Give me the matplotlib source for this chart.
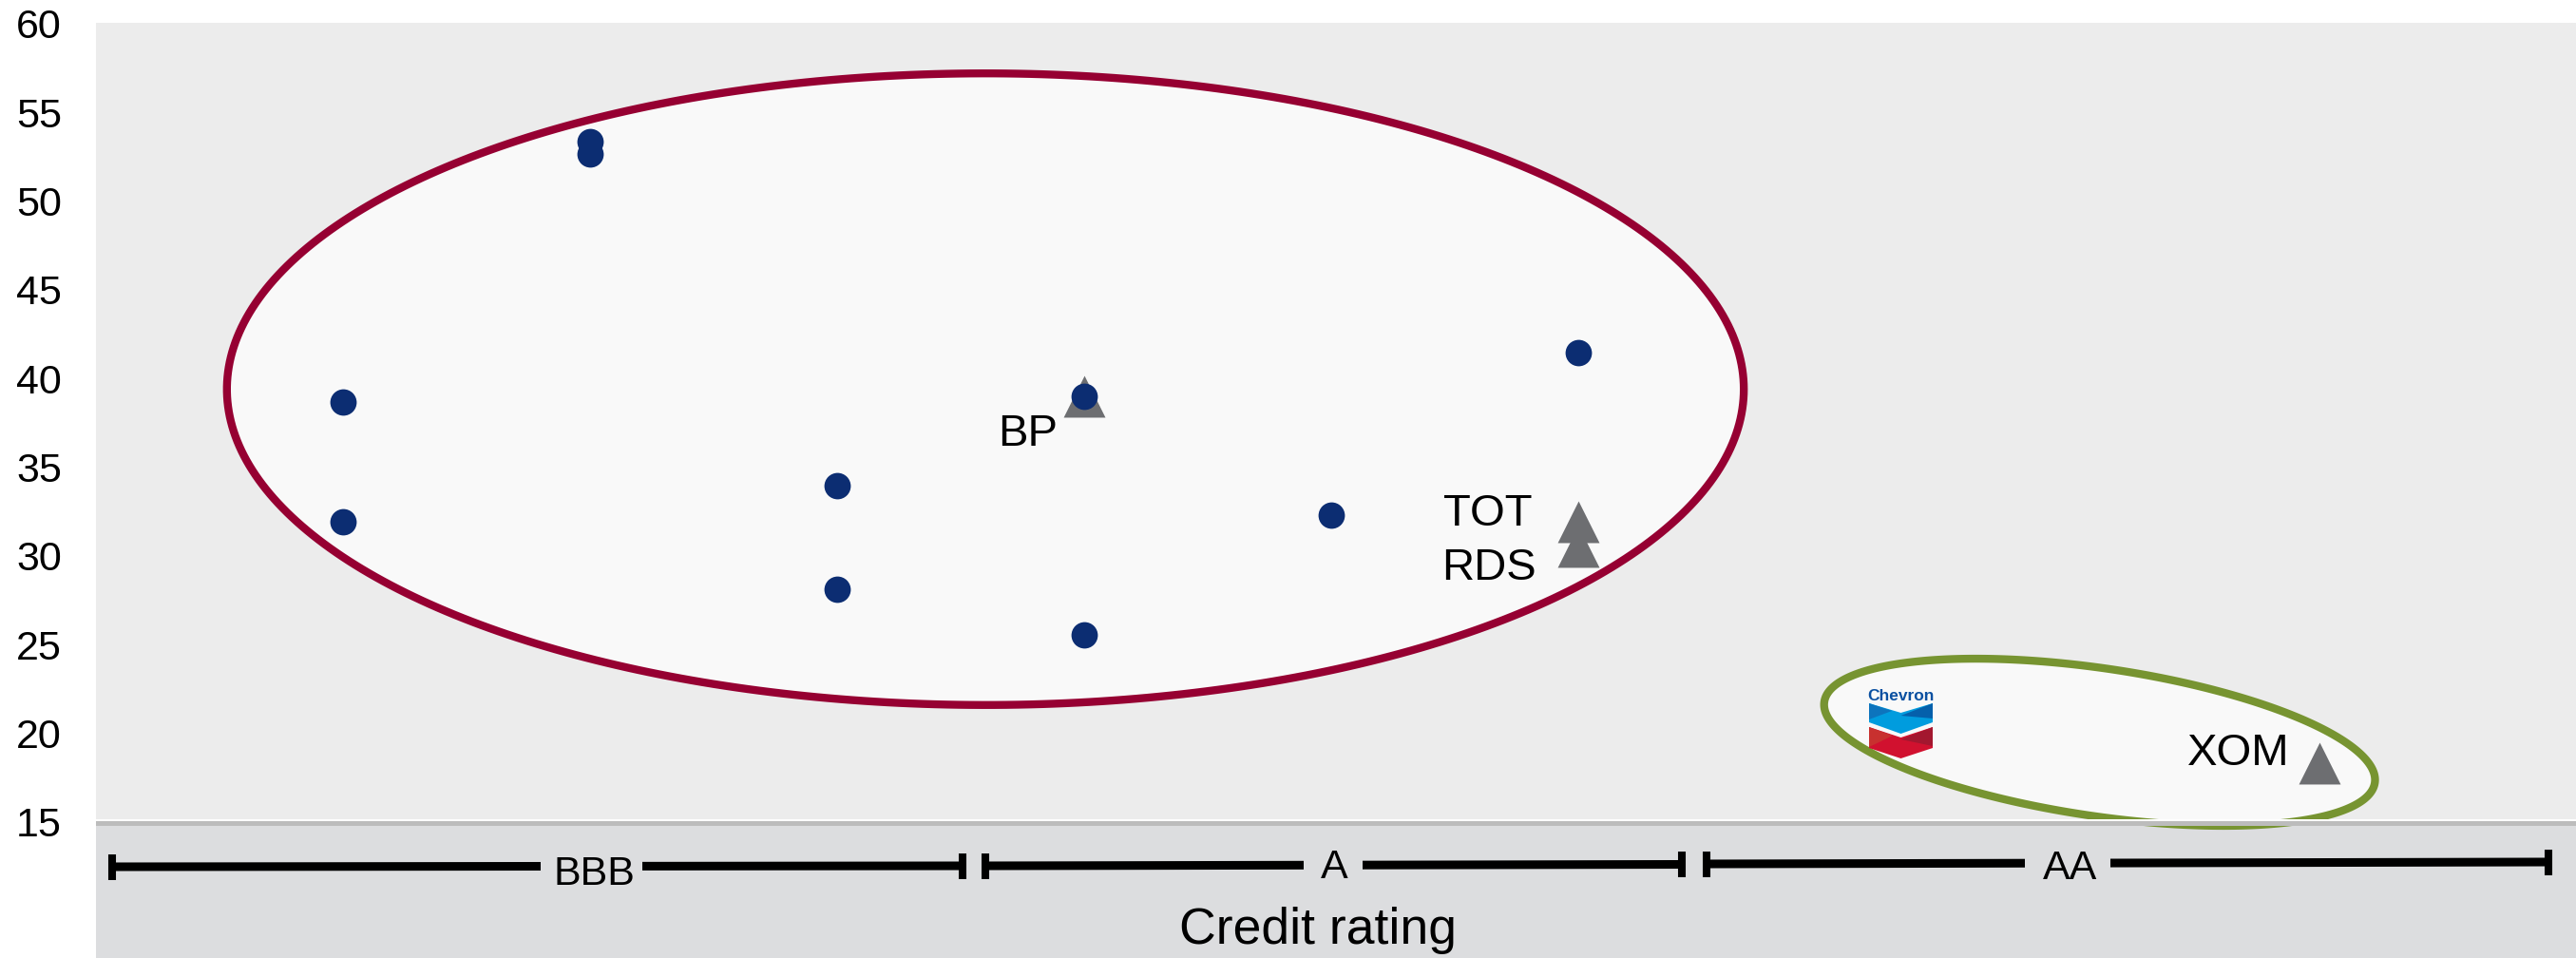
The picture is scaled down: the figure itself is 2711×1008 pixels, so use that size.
import numpy as np
import matplotlib
matplotlib.use('Agg')
import matplotlib.pyplot as plt
from matplotlib.patches import Polygon, Rectangle

plt.rcParams['font.family'] = ['Liberation Sans', 'DejaVu Sans']

W, H = 2711, 1008

y_ticks = [15, 20, 25, 30, 35, 40, 45, 50, 55, 60]

peer_x = [1, 1, 2, 2, 3, 3, 4, 4, 5, 6]
peer_y = [38.7, 31.95, 53.36, 52.66, 33.95, 28.15, 39.0, 25.55, 32.3, 41.45]

major_names = ['BP', 'TOT', 'RDS', 'XOM']
major_x = [4, 6, 6, 9]
major_y = [39.0, 31.95, 30.55, 18.3]


def px(x, y):
    return x / W, 1 - y / H


# everything is placed on a pixel sized figure
fig = plt.figure(figsize=(W / 100, H / 100), dpi=100, facecolor='white')
ax = fig.add_axes([101 / W, 1 - 865 / H, (W - 101) / W, (865 - 24) / H])
ax.set_xlim(0, (W - 101) / 260)
ax.set_ylim(15, 60.05)
ax.set_facecolor('#ececec')
for s in ax.spines.values():
    s.set_visible(False)
ax.set_xticks([])
ax.set_yticks(y_ticks)
ax.tick_params(axis='y', length=0, labelsize=31, pad=26)

# lower band with the rating scale
fig.add_artist(Rectangle((101 / W, 0), 1 - 101 / W, 1 - 862 / H,
                         transform=fig.transFigure, fc='#dcdddf', ec='none', zorder=-1))


def tilted_ellipse(cx, cy, hx, hy, rho, edge):
    t = np.linspace(0, 2 * np.pi, 400)
    x = cx + hx * np.cos(t)
    y = cy + hy * (rho * np.cos(t) + np.sqrt(1 - rho ** 2) * np.sin(t))
    ax.add_patch(Polygon(np.column_stack([x, y]), closed=True, fc='#f9f9f9', ec=edge,
                         lw=6, clip_on=False, zorder=2))


tilted_ellipse(3.6, 39.4, 3.07, 17.8, 0, '#960032')
tilted_ellipse(8.11, 19.5, 1.115, 4.71, -0.45, '#779431')

# the grey rule and white hairline sit over the ellipse
fig.add_artist(Rectangle(px(101, 869), 1 - 101 / W, 5 / H, transform=fig.transFigure,
                         fc='#bcbcbc', ec='none', zorder=5))
fig.add_artist(Rectangle(px(101, 864), 1 - 101 / W, 2 / H, transform=fig.transFigure,
                         fc='white', ec='none', zorder=5))

ax.scatter(major_x, major_y, marker='^', s=1000, c='#6d6e71', linewidths=0, zorder=3)
ax.scatter(peer_x, peer_y, marker='o', s=400, c='#0c2d72', linewidths=0, zorder=4)

# ticker labels
label_pos = [(1082, 469), (1566, 553), (1567, 610), (2356, 805)]
for name, (xp, yp) in zip(major_names, label_pos):
    fig.text(*px(xp, yp), name, fontsize=34, ha='center', va='baseline', zorder=6)


def seg(x0, y0, x1, y1, lw):
    fig.add_artist(plt.Line2D(*zip(px(x0, y0), px(x1, y1)), color='black', lw=lw,
                              solid_capstyle='butt', zorder=6))


def bracket(x0, x1, y0, y1, label, lx, base, gap0, gap1):
    slope = (y1 - y0) / (x1 - x0)
    seg(x0, y0, gap0, y0 + slope * (gap0 - x0), 6.5)
    seg(gap1, y0 + slope * (gap1 - x0), x1, y1, 6.5)
    seg(x0, y0 - 13.5, x0, y0 + 13.5, 5.8)
    seg(x1, y1 - 13.5, x1, y1 + 13.5, 5.8)
    fig.text(*px(lx, base), label, fontsize=31, ha='center', va='baseline', zorder=6)


bracket(118, 1013, 912, 911, 'BBB', 625, 931, 569, 676)
bracket(1037, 1770, 911, 909.5, 'A', 1404.5, 924, 1372, 1434)
bracket(1796, 2682, 909, 907, 'AA', 2179, 925, 2131, 2221)

fig.text(*px(1387, 993), 'Credit rating', fontsize=38.5, ha='center', va='baseline', zorder=6)


# company logo inside the green ellipse
def shape(pts, color):
    fig.add_artist(Polygon([px(*p) for p in pts], closed=True, transform=fig.transFigure,
                           fc=color, ec='none', zorder=6))


shape([(1967, 740), (2000.5, 750), (2034, 740), (2034, 760), (2000.5, 772), (1967, 760)], '#009cde')
shape([(1967, 740), (1991, 748), (1967, 757)], '#0d74bd')
shape([(2034, 740), (2000.5, 753), (2034, 756)], '#0560ab')
shape([(1967, 765), (2000.5, 776), (2034, 765), (2034, 787), (2000.5, 798), (1967, 787)], '#d1112f')
shape([(1967, 765), (1992, 774), (1967, 786)], '#c8312f')
shape([(2034, 765), (2000.5, 778), (2034, 785)], '#a3172f')
fig.text(*px(2000.5, 737), 'Chevron', fontsize=12.5, fontweight='bold', color='#0a50a1',
         ha='center', va='baseline', zorder=6)

fig.savefig('out.png', dpi=100)
